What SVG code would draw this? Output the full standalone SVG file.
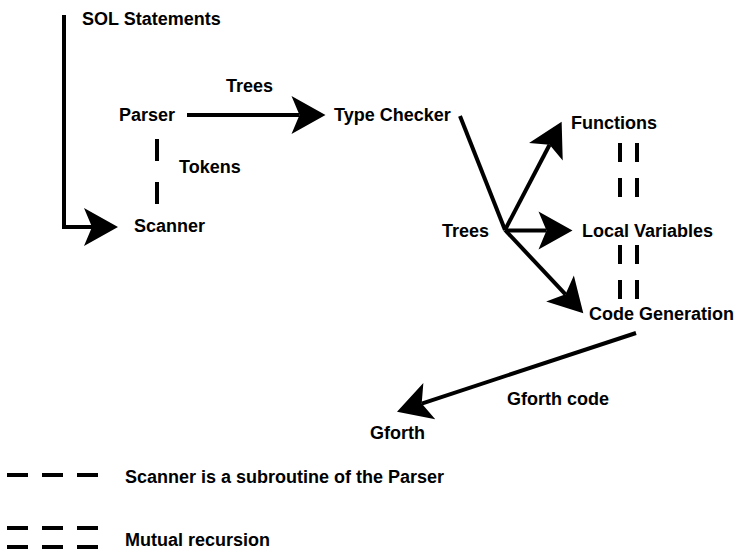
<svg xmlns="http://www.w3.org/2000/svg" width="740" height="550" viewBox="0 0 740 550">
  <style>
    .lbl { font-family: "Liberation Sans", Arial, Helvetica, sans-serif; font-weight: bold; font-size: 18px; fill: #000; }
    .edge { fill: none; stroke: #000; stroke-width: 4; stroke-linecap: butt; stroke-linejoin: miter; }
    .arrow { marker-end: url(#head); }
    .dash1 { fill: none; stroke: #000; stroke-width: 4; stroke-dasharray: 22 21; }
    .dash2 { fill: none; stroke: #000; stroke-width: 4; stroke-dasharray: 19 16; }
    .legdash { fill: none; stroke: #000; stroke-width: 4; stroke-dasharray: 21 14; }
  </style>
  <defs>
    <!-- notched arrowhead; reference point is the notch where the line ends -->
    <marker id="head" markerUnits="userSpaceOnUse" viewBox="-9 -20 36 40" refX="0" refY="0" markerWidth="36" markerHeight="40" orient="auto">
      <path d="M26,0 L-8,-19 L0,0 L-8,19 Z" fill="#000"/>
    </marker>
  </defs>

  <rect width="740" height="550" fill="#fff"/>

  <!-- connectors -->
  <g id="connectors">
    <path class="edge arrow" d="M64,15 V227 H92"/>
    <path class="edge arrow" d="M187,115 H299.5"/>
    <path class="edge" d="M460,116 L505,230"/>
    <path class="edge arrow" d="M505,230 L549.6,144.7"/>
    <path class="edge arrow" d="M505,230.5 H546.5"/>
    <path class="edge arrow" d="M505,230 L565.5,294.3"/>
    <path class="edge arrow" d="M636,333 L421.7,403.6"/>
    <!-- parser / scanner subroutine link -->
    <path class="dash1" d="M157,139 V204"/>
    <!-- mutual recursion links -->
    <path class="dash2" d="M620,143 V198 M637,143 V198"/>
    <path class="dash2" d="M620,245 V300 M637,245 V300"/>
  </g>

  <!-- edge labels -->
  <g id="edge-labels">
    <text class="lbl" x="82" y="25">SOL Statements</text>
    <text class="lbl" x="226" y="92">Trees</text>
    <text class="lbl" x="179" y="173">Tokens</text>
    <text class="lbl" x="442" y="237">Trees</text>
    <text class="lbl" x="507" y="405">Gforth code</text>
  </g>

  <!-- nodes -->
  <g id="parser"><text class="lbl" x="119" y="121">Parser</text></g>
  <g id="scanner"><text class="lbl" x="134" y="232">Scanner</text></g>
  <g id="type-checker"><text class="lbl" x="334" y="121">Type Checker</text></g>
  <g id="functions"><text class="lbl" x="571" y="129">Functions</text></g>
  <g id="local-variables"><text class="lbl" x="582" y="237">Local Variables</text></g>
  <g id="code-generation"><text class="lbl" x="589" y="320">Code Generation</text></g>
  <g id="gforth"><text class="lbl" x="370" y="439">Gforth</text></g>

  <!-- legend -->
  <g id="legend">
    <path class="legdash" d="M7,475 H98"/>
    <text class="lbl" x="125" y="483">Scanner is a subroutine of the Parser</text>
    <path class="legdash" d="M7,528 H98 M7,547 H98"/>
    <text class="lbl" x="125" y="546">Mutual recursion</text>
  </g>
</svg>
